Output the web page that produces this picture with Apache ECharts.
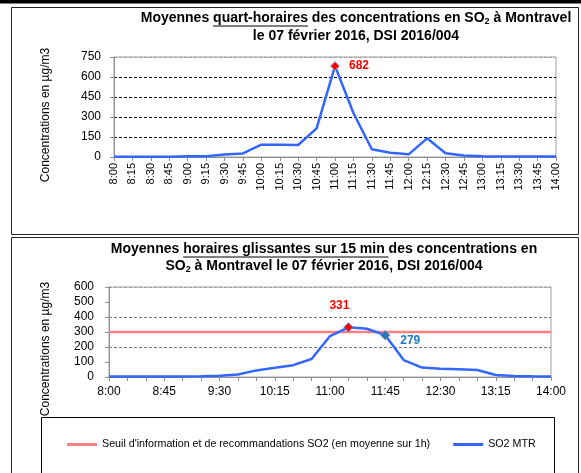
<!DOCTYPE html>
<html>
<head>
<meta charset="utf-8">
<script src="https://cdn.jsdelivr.net/npm/echarts@6/dist/echarts.min.js"></script>
<style>
html, body { margin: 0; padding: 0; background: #fff; }
#chart { width: 581px; height: 473px; }
</style>
</head>
<body>
<div id="chart"></div>
<script>
const FONT = '"Liberation Sans", Arial, sans-serif'

// heures (pas de 15 min)
const times = ['8:00', '8:15', '8:30', '8:45', '9:00', '9:15', '9:30', '9:45',
  '10:00', '10:15', '10:30', '10:45', '11:00', '11:15', '11:30', '11:45',
  '12:00', '12:15', '12:30', '12:45', '13:00', '13:15', '13:30', '13:45', '14:00']
// moyennes quart-horaires (µg/m3)
const quartHoraire = [2, 2, 2, 2, 5, 5, 18, 27, 92, 92, 90, 215, 682, 330, 58, 32, 20, 140, 28, 12, 6, 4, 4, 3, 3]
// moyennes horaires glissantes sur 15 min (µg/m3)
const glissante = [3, 3, 3, 3, 4, 5, 8, 17, 44, 61, 79, 120, 273, 331, 322, 279, 113, 63, 55, 51, 47, 13, 7, 5, 4]
// seuil d'information et de recommandations
const seuil = [300, 300, 300, 300, 300, 300, 300, 300, 300, 300, 300, 300, 300,
  300, 300, 300, 300, 300, 300, 300, 300, 300, 300, 300, 300]
const topTicks = [0, 150, 300, 450, 600, 750]
const bottomTicks = [0, 100, 200, 300, 400, 500, 600]

const peakQuart = 12
const peakGlissante = 13
const secondGlissante = 15

const seuilName = "Seuil d'information et de recommandations SO2 (en moyenne sur 1h)"
const mtrName = 'SO2 MTR'

const ctx = document.createElement('canvas').getContext('2d')
function textWidth(str, size) {
    ctx.font = 'bold ' + size + 'px ' + FONT
    return ctx.measureText(str).width
}

// une ligne de titre avec soulignement et indice
function titleLine(parts, cx, cy) {
    const widths = parts.map(p => textWidth(p.t, p.sub ? 9 : 14))
    const total = widths.reduce((a, b) => a + b, 0)
    let x = cx - total / 2
    const els = []
    parts.forEach((p, i) => {
        els.push({
            type: 'text', x: x, y: cy + (p.sub ? 4 : 0), z: 10,
            style: {
                text: p.t, fill: '#000',
                font: 'bold ' + (p.sub ? 9 : 14) + 'px ' + FONT,
                align: 'left', verticalAlign: 'middle'
            }
        })
        if (p.u) {
            els.push({
                type: 'line', z: 10,
                shape: { x1: x, y1: cy + 8, x2: x + widths[i], y2: cy + 8 },
                style: { stroke: '#000', lineWidth: 1 }
            })
        }
        x += widths[i]
    })
    return els
}

function marked(values, marks) {
    return values.map((v, i) => marks[i] ? Object.assign({ value: v }, marks[i]) : v)
}

const labelFont = { fontWeight: 'bold', fontSize: 12, fontFamily: FONT }

const graphics = [
    { type: 'rect', shape: { x: 0, y: 0, width: 581, height: 3.5 }, style: { fill: '#000' } },
    { type: 'rect', shape: { x: 11.5, y: 7.5, width: 567, height: 227 }, style: { fill: 'none', stroke: '#222', lineWidth: 1 } },
    { type: 'rect', shape: { x: 11.5, y: 237.5, width: 567, height: 250 }, style: { fill: 'none', stroke: '#222', lineWidth: 1 } },
    { type: 'rect', shape: { x: 41.5, y: 417.5, width: 513, height: 80 }, style: { fill: 'none', stroke: '#000', lineWidth: 1 } },
    {
        type: 'text', x: 46, y: 115, rotation: Math.PI / 2,
        style: { text: 'Concentrations en µg/m3', font: '12px ' + FONT, fill: '#000', align: 'center', verticalAlign: 'middle' }
    },
    {
        type: 'text', x: 46, y: 349, rotation: Math.PI / 2,
        style: { text: 'Concentrations en µg/m3', font: '12px ' + FONT, fill: '#000', align: 'center', verticalAlign: 'middle' }
    }
].concat(
    titleLine([{ t: 'Moyennes ' }, { t: 'quart-horaires', u: true }, { t: ' des concentrations en SO' }, { t: '2', sub: true }, { t: ' à Montravel' }], 356, 18),
    titleLine([{ t: 'le 07 février 2016, DSI 2016/004' }], 356, 36),
    titleLine([{ t: 'Moyennes ' }, { t: 'horaires glissantes sur 15 min ', u: true }, { t: 'des concentrations en' }], 324, 249),
    titleLine([{ t: 'SO' }, { t: '2', sub: true }, { t: ' à Montravel le 07 février 2016, DSI 2016/004' }], 324, 266)
)

const axisGray = '#909090'
const clear = 'rgba(0,0,0,0)'

const option = {
    animation: false,
    backgroundColor: '#fff',
    textStyle: { fontFamily: FONT },
    graphic: graphics,
    legend: {
        data: [{ name: seuilName, icon: 'rect' }, { name: mtrName, icon: 'rect' }],
        left: 67, top: 439, padding: 0,
        itemWidth: 30, itemHeight: 3, itemGap: 23,
        selectedMode: false,
        textStyle: { fontSize: 10.7, color: '#000', fontFamily: FONT }
    },
    grid: [
        { left: 114, right: 25, top: 57, height: 100, show: true, borderColor: '#a0a0a0', borderWidth: 1 },
        { left: 109, right: 30, top: 287, height: 90, show: true, borderColor: '#a0a0a0', borderWidth: 1 }
    ],
    xAxis: [
        {
            gridIndex: 0, type: 'category', data: times, boundaryGap: false,
            axisLine: { lineStyle: { color: axisGray } },
            axisTick: { show: true, interval: 0, length: 4, lineStyle: { color: axisGray } },
            axisLabel: { interval: 0, rotate: 90, fontSize: 11, color: '#000', margin: 6 }
        },
        {
            gridIndex: 1, type: 'category', data: times, boundaryGap: false,
            axisLine: { lineStyle: { color: axisGray } },
            axisTick: { show: true, interval: 0, length: 4, lineStyle: { color: axisGray } },
            axisLabel: { interval: 2, fontSize: 12, color: '#000', margin: 9 }
        }
    ],
    yAxis: [
        {
            gridIndex: 0, type: 'value', min: topTicks[0], max: topTicks[topTicks.length - 1], interval: topTicks[1] - topTicks[0],
            axisLine: { show: true, lineStyle: { color: axisGray } },
            axisTick: { show: true, length: 4, lineStyle: { color: axisGray } },
            axisLabel: { fontSize: 12, color: '#000', margin: 13 },
            splitLine: { show: true, lineStyle: { color: ['#000', '#000', '#000', '#000', '#000', '#a0a0a0'], type: [3, 2], width: 1 } }
        },
        {
            gridIndex: 1, type: 'value', min: bottomTicks[0], max: bottomTicks[bottomTicks.length - 1], interval: bottomTicks[1] - bottomTicks[0],
            axisLine: { show: true, lineStyle: { color: axisGray } },
            axisTick: { show: true, length: 4, lineStyle: { color: axisGray } },
            axisLabel: { fontSize: 12, color: '#000', margin: 15 },
            splitLine: { show: true, lineStyle: { color: [clear, clear, '#777', clear, '#777', clear, '#a0a0a0'], type: [3, 2], width: 1 } }
        }
    ],
    series: [
        {
            name: 'SO2 quart-horaire', type: 'line', xAxisIndex: 0, yAxisIndex: 0,
            data: marked(quartHoraire, {
                [peakQuart]: {
                    symbol: 'diamond', symbolSize: 9,
                    itemStyle: { color: '#ff0000', borderColor: '#8db3e2', borderWidth: 1 },
                    label: Object.assign({ show: true, position: 'right', distance: 9, formatter: '{c}', color: '#ff0000' }, labelFont)
                }
            }),
            symbol: 'none', showSymbol: true, showAllSymbol: true, silent: true,
            color: '#3366ff', lineStyle: { color: '#3366ff', width: 2.5 }
        },
        {
            name: seuilName, type: 'line', xAxisIndex: 1, yAxisIndex: 1,
            data: seuil, symbol: 'none', silent: true,
            color: '#ff8080', lineStyle: { color: '#ff8080', width: 2.5 }
        },
        {
            name: mtrName, type: 'line', xAxisIndex: 1, yAxisIndex: 1,
            data: marked(glissante, {
                [peakGlissante]: {
                    symbol: 'diamond', symbolSize: 9,
                    itemStyle: { color: '#ff0000', borderColor: '#4f81bd', borderWidth: 1 },
                    label: Object.assign({ show: true, position: 'top', distance: 11, offset: [-9, 0], formatter: '{c}', color: '#ff0000' }, labelFont)
                },
                [secondGlissante]: {
                    symbol: 'diamond', symbolSize: 9,
                    itemStyle: { color: '#2e75b6', borderColor: '#4f81bd', borderWidth: 1 },
                    label: Object.assign({ show: true, position: 'right', distance: 10, offset: [0, 6], formatter: '{c}', color: '#1f78c8' }, labelFont)
                }
            }),
            symbol: 'none', showSymbol: true, showAllSymbol: true, silent: true,
            color: '#3366ff', lineStyle: { color: '#3366ff', width: 2.5 }
        }
    ]
}

const chart = echarts.init(document.getElementById('chart'), null, { renderer: 'canvas' })
chart.setOption(option)
</script>
</body>
</html>
